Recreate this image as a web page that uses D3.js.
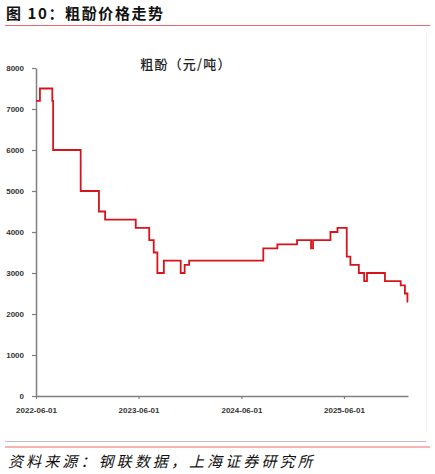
<!DOCTYPE html>
<html lang="zh">
<head>
  <meta charset="utf-8">
  <title>粗酚价格走势</title>
  <script src="https://cdn.jsdelivr.net/npm/d3@7"></script>
  <style>
    body { margin: 0; background: #fff; }
    svg { display: block; }
    .tick text { font-family: "Liberation Sans", Arial, sans-serif; font-weight: bold; font-size: 8px; fill: #333; }
  </style>
</head>
<body>
  <svg id="chart" width="435" height="474"></svg>
  <script>
    // step dates (value holds from that date on)
    const dates = [
      "2022-06-01","2022-06-15","2022-07-29","2022-08-01","2022-11-07",
      "2023-01-11","2023-02-02","2023-05-22","2023-07-09","2023-07-25",
      "2023-08-07","2023-08-30","2023-10-29","2023-11-12","2023-11-28",
      "2024-08-18","2024-10-07","2024-12-16","2025-02-04","2025-02-11",
      "2025-04-14","2025-05-09","2025-06-11","2025-06-24","2025-07-24",
      "2025-08-12","2025-08-22","2025-10-25","2025-12-20","2026-01-04",
      "2026-01-13","2026-01-15"
    ];
    const prices = [
      7200, 7500, 7200, 6000, 5000,
      4500, 4300, 4100, 3800, 3500,
      3000, 3300, 3000, 3200, 3300,
      3600, 3700, 3800, 3600, 3800,
      4000, 4100, 3400, 3200, 3000,
      2800, 3000, 2800, 2700, 2500,
      2300, 2300
    ];
    const xTicks = ["2022-06-01", "2023-06-01", "2024-06-01", "2025-06-01"];
    const yTicks = [0, 1000, 2000, 3000, 4000, 5000, 6000, 7000, 8000];

    const parse = d3.timeParse("%Y-%m-%d");
    const data = dates.map((d, i) => ({ date: parse(d), value: prices[i] }));

    const svg = d3.select("#chart");

    // header
    svg.append("text")
      .attr("x", 6).attr("y", 19)
      .attr("font-family", "'Noto Sans CJK SC', sans-serif")
      .attr("font-weight", "bold").attr("font-size", 15)
      .attr("letter-spacing", 1.6)
      .attr("fill", "#111")
      .text("图 10：粗酚价格走势");
    svg.append("line")
      .attr("x1", 5).attr("x2", 430).attr("y1", 25.5).attr("y2", 25.5)
      .attr("stroke", "#f0676b").attr("stroke-width", 1.2);

    // faint frame on right
    svg.append("line")
      .attr("x1", 426.5).attr("x2", 426.5).attr("y1", 33).attr("y2", 432)
      .attr("stroke", "#eeeeee").attr("stroke-width", 1);

    const x = d3.scaleTime()
      .domain([parse("2022-06-01"), parse("2026-01-15")])
      .range([36, 408]);
    const y = d3.scaleLinear().domain([0, 8000]).range([396, 68]);

    svg.append("text")
      .attr("x", 186).attr("y", 69)
      .attr("text-anchor", "middle")
      .attr("font-family", "'Noto Sans CJK SC', sans-serif")
      .attr("font-weight", 500)
      .attr("font-size", 13).attr("letter-spacing", 1.2)
      .attr("fill", "#222")
      .text("粗酚（元/吨）");

    // axes
    const gx = svg.append("g").attr("transform", "translate(0,396)")
      .call(d3.axisBottom(x)
        .tickValues(xTicks.map(parse))
        .tickFormat(d3.timeFormat("%Y-%m-%d"))
        .tickSizeInner(3).tickSizeOuter(0).tickPadding(8));
    const gy = svg.append("g").attr("transform", "translate(36,0)")
      .call(d3.axisLeft(y)
        .tickValues(yTicks)
        .tickFormat(d3.format("d"))
        .tickSizeInner(4).tickSizeOuter(0).tickPadding(8));

    [gx, gy].forEach(g => {
      g.select(".domain").attr("stroke", "#7f7f7f").attr("stroke-width", 1.5);
      g.selectAll(".tick line").attr("stroke", "#7f7f7f").attr("stroke-width", 1.2);
    });

    // price line
    const line = d3.line()
      .x(d => x(d.date))
      .y(d => y(d.value))
      .curve(d3.curveStepAfter);

    svg.append("path")
      .datum(data)
      .attr("fill", "none")
      .attr("stroke", "#d7141c")
      .attr("stroke-width", 1.8)
      .attr("d", line);

    // footer
    svg.append("line")
      .attr("x1", 5).attr("x2", 426).attr("y1", 441.5).attr("y2", 441.5)
      .attr("stroke", "#bfbfbf").attr("stroke-width", 1);
    svg.append("line")
      .attr("x1", 5).attr("x2", 430).attr("y1", 447).attr("y2", 447)
      .attr("stroke", "#f0676b").attr("stroke-width", 1.2);
    svg.append("text")
      .attr("x", 8).attr("y", 467)
      .attr("font-family", "'Noto Sans CJK SC', sans-serif")
      .attr("font-style", "italic").attr("font-size", 15)
      .attr("letter-spacing", 3.1)
      .attr("fill", "#111")
      .text("资料来源：钢联数据，上海证券研究所");
  </script>
</body>
</html>
